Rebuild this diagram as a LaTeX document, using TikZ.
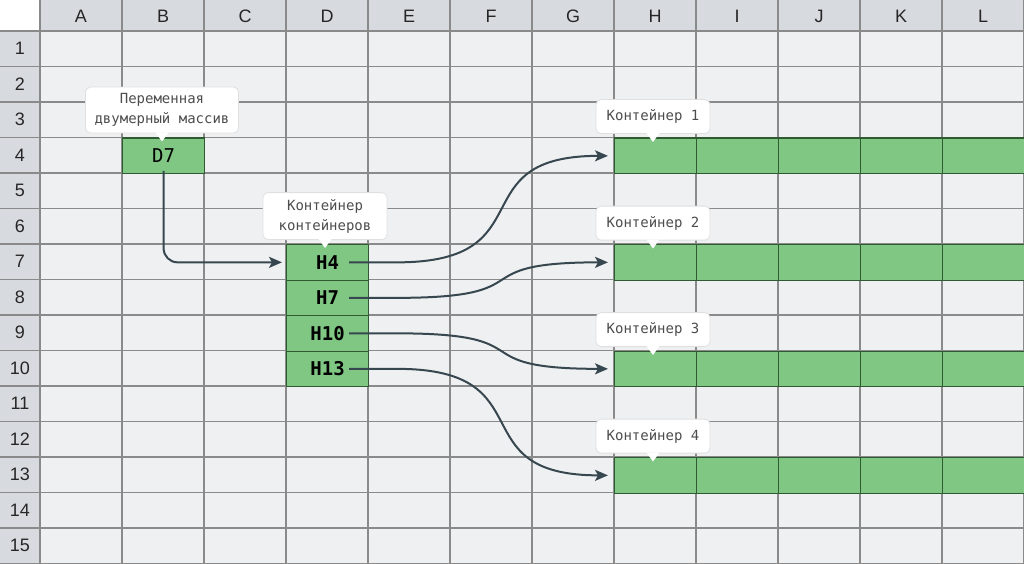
\documentclass[tikz,border=0pt]{standalone}
\usepackage{fontspec}
\setmainfont{Liberation Sans}
\setmonofont{DejaVu Sans Mono}
\usetikzlibrary{arrows.meta,positioning}
\definecolor{cellbg}{HTML}{EFF0F2}
\definecolor{headbg}{HTML}{D7DBDF}
\definecolor{gridgray}{HTML}{8A8A8A}
\definecolor{cellgreen}{HTML}{81C784}
\definecolor{greenedge}{HTML}{2F5A32}
\definecolor{linkgray}{HTML}{37474F}
\definecolor{notetext}{HTML}{4D4D4D}
\tikzset{
  gridline/.style={draw=gridgray,line width=1.2pt},
  headtext/.style={text=black!85,font=\fontsize{18}{18}\selectfont},
  greencell/.style={draw=greenedge,fill=cellgreen,line width=1.2pt,minimum width=82pt,
    minimum height=35.5pt,inner sep=0pt,anchor=north west},
  celltext/.style={font=\ttfamily\fontsize{19}{19}\selectfont},
  boldtext/.style={font=\ttfamily\bfseries\fontsize{19}{19}\selectfont},
  link/.style={draw=linkgray,line width=2pt,-{Stealth[length=13pt,width=11pt,inset=3pt]}},
  note/.style={fill=white,draw=black!12,line width=0.8pt,rounded corners=5pt,align=center,
    text=notetext,font=\ttfamily\fontsize{14}{20}\selectfont,inner sep=2pt,anchor=south}
}
\newcommand{\notetip}[1]{%
  \fill[white] ([xshift=-6.5pt,yshift=1pt]#1.south) -- ([yshift=-8pt]#1.south)
    -- ([xshift=6.5pt,yshift=1pt]#1.south) -- cycle;}
\begin{document}
\begin{tikzpicture}[x=1pt,y=-1pt]
\useasboundingbox (0,0) rectangle (1024,564);
\fill[cellbg] (0,0) rectangle (1024,564);
\fill[headbg] (0,0) rectangle (1024,31) (0,0) rectangle (40,564);
\fill[white] (0,0) rectangle (40,31);
\foreach \i in {0,...,12} \draw[gridline] ({40+82*\i},0) -- ({40+82*\i},564);
\foreach \j in {0,...,15} \draw[gridline] (0,{31+35.5*\j}) -- (1024,{31+35.5*\j});
\foreach \c [count=\i from 0] in {A,...,L} \node[headtext] at ({81+82*\i},16) {\c};
\foreach \r in {1,...,15} \node[headtext] at (20,{13.25+35.5*\r}) {\r};
% cells
\node[greencell,celltext] (var) at (122,137.5) {D7};
\foreach \r/\t in {4/244,7/279.5,10/315,13/350.5}
  \node[greencell,boldtext] (h\r) at (286,\t) {H\r};
\foreach \r/\t in {4/137.5,7/244,10/350.5,13/457}
  \foreach \k in {0,...,4}
    \node[greencell] (cont\r-\k) at ({614+82*\k},\t) {};
% links
\draw[link,rounded corners=14pt] ([yshift=-15pt]var.center) |- ([xshift=-4pt]h4.west);
\foreach \r in {4,7,10,13}
  \draw[link] ([xshift=-20pt]h\r.east) -- ++(48,0)
    .. controls +(150,0) and +(-150,0) .. ([xshift=-6pt]cont\r-0.west);
% notes
\node[note,minimum width=153pt,minimum height=46pt] (varnote) at (162,133.5) {Переменная\\двумерный массив};
\notetip{varnote}
\node[note,minimum width=124pt,minimum height=47pt] (hnote) at (325,240) {Контейнер\\контейнеров};
\notetip{hnote}
\foreach \n/\t in {1/134,2/240.5,3/347,4/453.5} {
  \node[note,minimum width=114pt,minimum height=34pt] (cnote\n) at (653,\t) {Контейнер \n};
  \notetip{cnote\n}
}
\end{tikzpicture}
\end{document}
